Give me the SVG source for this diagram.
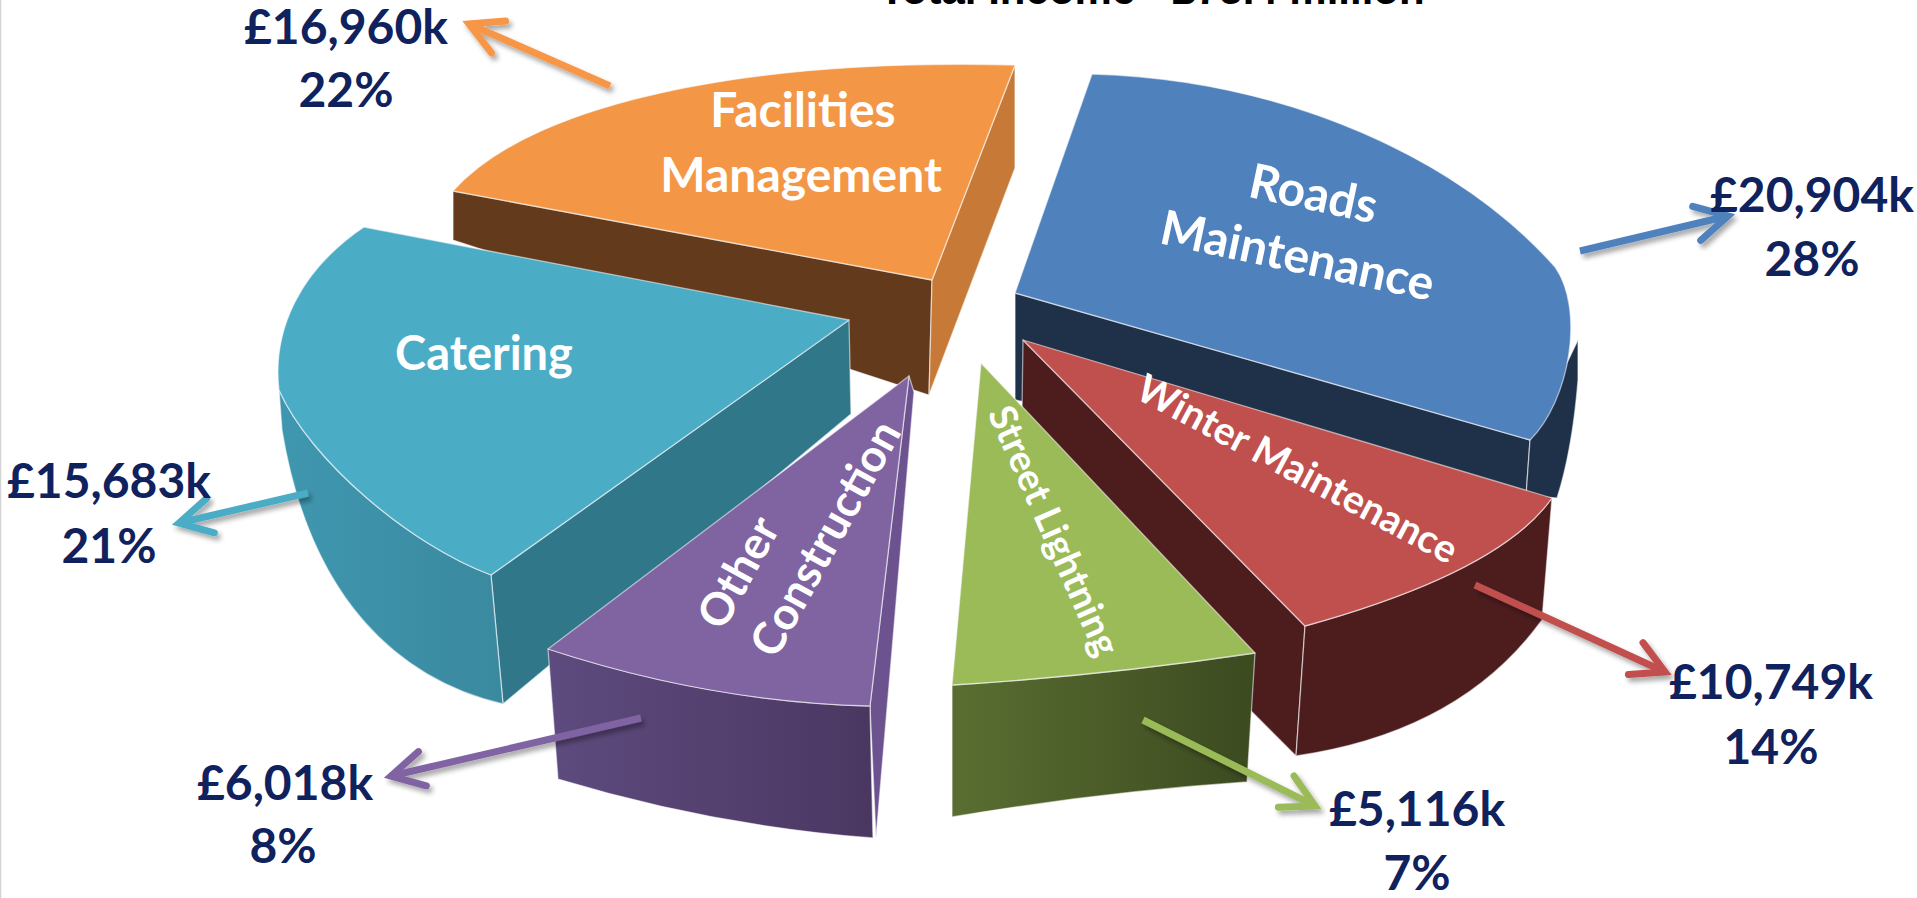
<svg xmlns="http://www.w3.org/2000/svg" width="1917" height="898" viewBox="0 0 1917 898">
<style>
.face{stroke:#ffffff;stroke-opacity:0.55;stroke-width:1.3;stroke-linejoin:round}
.inner{font-family:Lato,"Open Sans","Liberation Sans",sans-serif;font-weight:700;fill:#ffffff;text-anchor:middle}
.val{font-family:Lato,"Open Sans","Liberation Sans",sans-serif;font-weight:700;font-size:48px;fill:#10225e;text-anchor:middle}
.arr{fill:none;stroke-width:7}
.head{fill:none;stroke-width:1;stroke-linecap:round;stroke-linejoin:miter}
.title{font-family:"Liberation Sans",Arial,sans-serif;font-weight:700;font-size:42px;fill:#000;text-anchor:middle}
</style>
<defs>
<filter id="sh" x="-20%" y="-20%" width="140%" height="140%">
<feDropShadow dx="3" dy="4" stdDeviation="2.5" flood-color="#000" flood-opacity="0.35"/>
</filter>
<linearGradient id="gGreen" x1="0" y1="0" x2="1" y2="0"><stop offset="0" stop-color="#5a6e31"/><stop offset="1" stop-color="#3c4a20"/></linearGradient>
<linearGradient id="gPurple" x1="0" y1="0" x2="1" y2="0"><stop offset="0" stop-color="#5e4b7f"/><stop offset="1" stop-color="#4a3761"/></linearGradient>
<linearGradient id="gTeal" x1="0" y1="0" x2="1" y2="0"><stop offset="0" stop-color="#3f97af"/><stop offset="1" stop-color="#3a899f"/></linearGradient>
<marker id="mOrange" viewBox="-7 -5 9 10" refX="0" refY="0" markerWidth="9" markerHeight="10" orient="auto" markerUnits="strokeWidth"><path class="head" d="M-4.6,-2.5 L0,0 L-4.6,2.5" stroke="#f79646"/></marker>
<marker id="mBlue" viewBox="-7 -5 9 10" refX="0" refY="0" markerWidth="9" markerHeight="10" orient="auto" markerUnits="strokeWidth"><path class="head" d="M-4.6,-2.5 L0,0 L-4.6,2.5" stroke="#4f81bd"/></marker>
<marker id="mTeal" viewBox="-7 -5 9 10" refX="0" refY="0" markerWidth="9" markerHeight="10" orient="auto" markerUnits="strokeWidth"><path class="head" d="M-4.6,-2.5 L0,0 L-4.6,2.5" stroke="#4bacc6"/></marker>
<marker id="mPurple" viewBox="-7 -5 9 10" refX="0" refY="0" markerWidth="9" markerHeight="10" orient="auto" markerUnits="strokeWidth"><path class="head" d="M-4.6,-2.5 L0,0 L-4.6,2.5" stroke="#8064a2"/></marker>
<marker id="mGreen" viewBox="-7 -5 9 10" refX="0" refY="0" markerWidth="9" markerHeight="10" orient="auto" markerUnits="strokeWidth"><path class="head" d="M-4.6,-2.5 L0,0 L-4.6,2.5" stroke="#9bbb59"/></marker>
<marker id="mRed" viewBox="-7 -5 9 10" refX="0" refY="0" markerWidth="9" markerHeight="10" orient="auto" markerUnits="strokeWidth"><path class="head" d="M-4.6,-2.5 L0,0 L-4.6,2.5" stroke="#c0504d"/></marker>
</defs>
<rect x="0" y="0" width="1917" height="898" fill="#ffffff"/>
<line x1="0.5" y1="0" x2="0.5" y2="898" stroke="#d4d4d4" stroke-width="1.5"/>
<text class="title" x="1152" y="4">Total Income - £75.4 million</text>

<g id="slice-facilities">
<polygon class="face" points="453,191 932,280 929,395 453,240" fill="#633a1c"/>
<polygon class="face" points="1015,65 932,280 929,395 1015,168" fill="#c77a38"/>
<path class="face" d="M453,191 C530,105 740,58 1015,65 L932,280 Z" fill="#f39646"/>
<text class="inner" font-size="48" x="803" y="127">Facilities</text>
<text class="inner" font-size="48" x="801" y="192">Management</text>
</g>

<g id="slice-roads">
<polygon class="face" points="1015,293 1530,440 1526,496 1015,400" fill="#1f3049"/>
<path class="face" d="M1530,440 L1578,340 L1578,380 C1574,430 1566,470 1557,498 L1526,496 Z" fill="#1f3049"/>
<path class="face" d="M1092,74 C1290,80 1460,160 1555,267 C1585,310 1570,400 1530,440 L1015,293 Z" fill="#4f81bd"/>
<text class="inner" font-size="48" transform="translate(1310,210) rotate(12)" x="0" y="0">Roads</text>
<text class="inner" font-size="48" transform="translate(1294,272) rotate(12)" x="0" y="0">Maintenance</text>
</g>

<g id="slice-catering">
<polygon class="face" points="849,320 851,414 503,704 491,575" fill="#31778a"/>
<path class="face" d="M279,390 C310,460 410,545 491,575 L503,704 C400,680 310,600 282,430 Z" fill="url(#gTeal)"/>
<path class="face" d="M364,227 L849,320 L491,575 C410,545 310,460 279,390 C272,330 300,270 364,227 Z" fill="#4bacc6"/>
<text class="inner" font-size="47" x="484" y="370">Catering</text>
</g>

<g id="slice-winter">
<polygon class="face" points="1023,340 1305,626 1296,756 1021,480" fill="#4d1d1e"/>
<path class="face" d="M1552,498 Q1500,572 1305,626 L1296,756 Q1461,732 1542,620 Z" fill="#4d1d1e"/>
<path class="face" d="M1023,340 L1552,498 Q1500,572 1305,626 Z" fill="#c0504d"/>
<text class="inner" font-size="39" transform="translate(1291,481) rotate(28)" x="0" y="0">Winter Maintenance</text>
</g>

<g id="slice-other">
<polygon class="face" points="909,376 914,392 876,838 870,706" fill="#6c5390"/>
<path class="face" d="M548,649 Q709,702 870,706 L873,838 Q714,826 558,779 Z" fill="url(#gPurple)"/>
<path class="face" d="M909,376 L870,706 Q709,702 548,649 Z" fill="#8064a2"/>
<text class="inner" font-size="45" transform="translate(752,580) rotate(-61)" x="0" y="0">Other</text>
<text class="inner" font-size="45" transform="translate(839,546) rotate(-61)" x="0" y="0">Construction</text>
</g>

<g id="slice-street">
<path class="face" d="M952,685 Q1100,676 1255,653 L1247,782 Q1100,792 952,817 Z" fill="url(#gGreen)"/>
<path class="face" d="M981,363 L1255,653 Q1100,676 952,685 Z" fill="#9bbb59"/>
<text class="inner" font-size="38" transform="translate(1042,536) rotate(66)" x="0" y="0">Street Lightning</text>
</g>

<g id="connectors" filter="url(#sh)">
<path class="arr" d="M610,86 L469,24" stroke="#f79646" marker-end="url(#mOrange)"/>
<path class="arr" d="M1580,251 L1728,216" stroke="#4f81bd" marker-end="url(#mBlue)"/>
<path class="arr" d="M308,493 L179,523" stroke="#4bacc6" marker-end="url(#mTeal)"/>
<path class="arr" d="M641,718 L391,776" stroke="#8064a2" marker-end="url(#mPurple)"/>
<path class="arr" d="M1143,720 L1315,806" stroke="#9bbb59" marker-end="url(#mGreen)"/>
<path class="arr" d="M1475,585 L1665,672" stroke="#c0504d" marker-end="url(#mRed)"/>
</g>

<g id="labels">
<text class="val" x="346" y="44">£16,960k</text>
<text class="val" x="346" y="107">22%</text>
<text class="val" x="1812" y="212">£20,904k</text>
<text class="val" x="1812" y="276">28%</text>
<text class="val" x="109" y="498">£15,683k</text>
<text class="val" x="109" y="563">21%</text>
<text class="val" x="285" y="800">£6,018k</text>
<text class="val" x="283" y="863">8%</text>
<text class="val" x="1417" y="826">£5,116k</text>
<text class="val" x="1417" y="890">7%</text>
<text class="val" x="1771" y="699">£10,749k</text>
<text class="val" x="1771" y="764">14%</text>
</g>
</svg>
